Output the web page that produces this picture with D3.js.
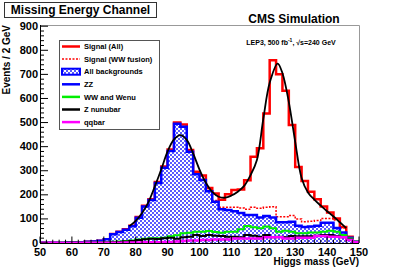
<!DOCTYPE html>
<html>
<head>
<meta charset="utf-8">
<script src="https://cdn.jsdelivr.net/npm/d3@7"></script>
<style>
  body { margin: 0; background: #fff; }
  svg { display: block; font-family: "Liberation Sans", Arial, Helvetica, sans-serif; font-weight: bold; }
</style>
</head>
<body>
<svg id="chart" width="399" height="270"></svg>
<script>
// bins: 2 GeV wide, lower edges 50 .. 148
const binLow = d3.range(50, 150, 2);

// stacked contents (each series already includes the ones below it)
const signalAll = [1, 1, 1, 1, 2, 2, 3, 5, 6, 9, 16, 37, 47, 57, 72, 108, 155, 182, 253, 318,
  388, 500, 492, 386, 296, 280, 228, 205, 180, 202, 220, 222, 261, 358, 393, 538, 759, 701, 632, 490,
  315, 257, 213, 182, 152, 127, 102, 66, 26, 5];
const signalWW = [1, 1, 1, 1, 2, 2, 3, 5, 6, 9, 16, 36, 46, 55, 70, 105, 152, 178, 249, 312,
  382, 495, 483, 379, 288, 264, 218, 176, 148, 148, 148, 145, 140, 148, 144, 148, 150, 109, 109, 114,
  100, 88, 90, 93, 102, 102, 95, 62, 24, 5];
const allBkg = [1, 1, 1, 1, 2, 2, 3, 5, 6, 9, 16, 36, 46, 55, 70, 105, 152, 178, 249, 312,
  382, 495, 483, 379, 285, 262, 215, 171, 140, 137, 132, 125, 116, 116, 106, 112, 106, 86, 86, 88,
  72, 66, 68, 72, 84, 84, 62, 44, 22, 5];
const wwWenu = [0, 0, 0, 1, 1, 1, 1, 2, 2, 2, 3, 5, 6, 8, 10, 15, 18, 20, 20, 22,
  28, 32, 40, 43, 47, 47, 50, 46, 43, 47, 47, 57, 71, 65, 61, 68, 61, 47, 51, 47,
  40, 40, 44, 44, 47, 51, 47, 33, 19, 5];
const zNunu = [0, 0, 0, 0, 1, 1, 1, 1, 1, 1, 2, 3, 4, 6, 8, 12, 16, 18, 17, 20,
  22, 18, 24, 26, 33, 29, 33, 30, 29, 26, 26, 24, 33, 30, 26, 33, 24, 26, 24, 29,
  28, 28, 28, 30, 33, 33, 29, 24, 15, 4];
const qqbar = [0, 0, 0, 0, 0, 0, 1, 1, 1, 1, 1, 1, 1, 2, 2, 2, 3, 3, 3, 4,
  4, 6, 8, 10, 10, 12, 12, 15, 15, 15, 19, 19, 19, 19, 19, 24, 24, 24, 19, 19,
  22, 22, 22, 29, 29, 26, 26, 24, 12, 3];

// fit curve
const fitMass = [78, 80, 82, 84, 86, 88, 90, 92, 94, 96, 98, 100, 102, 104, 106, 108, 110, 112, 114, 116,
  118, 120, 122, 124.5, 126, 128, 130, 132, 134, 136, 138, 140, 142, 144, 146];
const fitVal = [70, 92, 125, 170, 235, 305, 380, 430, 448, 428, 372, 305, 250, 212, 192, 188, 197, 213, 237, 282,
  345, 515, 665, 745, 705, 585, 420, 270, 210, 180, 155, 132, 110, 86, 62];

const xTicks = [50, 60, 70, 80, 90, 100, 110, 120, 130, 140, 150];
const yTicks = [0, 100, 200, 300, 400, 500, 600, 700, 800, 900];

const legendItems = [
  { label: "Signal (All)", kind: "line", color: "#ff0000", dash: null },
  { label: "Signal (WW fusion)", kind: "line", color: "#ff0000", dash: "2,1.5" },
  { label: "All backgrounds", kind: "box", color: "#0000ff", dash: null },
  { label: "ZZ", kind: "line", color: "#0000ff", dash: null },
  { label: "WW and Wenu", kind: "line", color: "#00ee00", dash: null },
  { label: "Z nunubar", kind: "line", color: "#000000", dash: null },
  { label: "qqbar", kind: "line", color: "#ff00ff", dash: null }
];

const svg = d3.select("#chart");
const frame = { left: 40, right: 359, top: 25, bottom: 243 };

const x = d3.scaleLinear().domain([50, 150]).range([frame.left, frame.right]);
const y = d3.scaleLinear().domain([0, 905]).range([frame.bottom, frame.top]);

// checker fill
const defs = svg.append("defs");
const pat = defs.append("pattern")
  .attr("id", "checker")
  .attr("patternUnits", "userSpaceOnUse")
  .attr("width", 4).attr("height", 4);
pat.append("rect").attr("width", 4).attr("height", 4).attr("fill", "#ffffff");
pat.append("rect").attr("width", 2).attr("height", 2).attr("fill", "#5a5aff");
pat.append("rect").attr("x", 2).attr("y", 2).attr("width", 2).attr("height", 2).attr("fill", "#5a5aff");

defs.append("clipPath").attr("id", "plotclip")
  .append("rect")
  .attr("x", frame.left).attr("y", frame.top - 2)
  .attr("width", frame.right - frame.left).attr("height", frame.bottom - frame.top + 2);

const stepPts = (vals) => {
  const pts = vals.map((v, i) => [binLow[i], v]);
  pts.push([150, vals[vals.length - 1]]);
  return pts;
};
const stepLine = d3.line().curve(d3.curveStepAfter).x(d => x(d[0])).y(d => y(d[1]));
const stepArea = d3.area().curve(d3.curveStepAfter).x(d => x(d[0])).y0(y(0)).y1(d => y(d[1]));

// frame top/right
svg.append("path")
  .attr("d", `M${frame.left},${frame.top + 0.5}H${frame.right + 0.5}V${frame.bottom}`)
  .attr("fill", "none").attr("stroke", "#999").attr("stroke-width", 1);

const plot = svg.append("g").attr("clip-path", "url(#plotclip)");

plot.append("path")
  .attr("d", stepLine(stepPts(signalAll)))
  .attr("fill", "none").attr("stroke", "#ff0000").attr("stroke-width", 2.5);

plot.append("path")
  .attr("d", stepLine(stepPts(signalWW)))
  .attr("fill", "none").attr("stroke", "#ff0000").attr("stroke-width", 1.5)
  .attr("stroke-dasharray", "2,1.5");

plot.append("path")
  .attr("d", stepArea(stepPts(allBkg)))
  .attr("fill", "url(#checker)");

plot.append("path")
  .attr("d", stepLine(stepPts(allBkg)))
  .attr("fill", "none").attr("stroke", "#0000ff").attr("stroke-width", 2.5);

plot.append("path")
  .attr("d", stepLine(stepPts(wwWenu)))
  .attr("fill", "none").attr("stroke", "#00ee00").attr("stroke-width", 2);

plot.append("path")
  .attr("d", stepLine(stepPts(zNunu)))
  .attr("fill", "none").attr("stroke", "#000000").attr("stroke-width", 2);

plot.append("path")
  .attr("d", stepLine(stepPts(qqbar)))
  .attr("fill", "none").attr("stroke", "#ff00ff").attr("stroke-width", 2.5);

// fit
const fitLine = d3.line().curve(d3.curveCatmullRom.alpha(0.5))
  .x((d, i) => x(fitMass[i])).y(d => y(d));
plot.append("path")
  .attr("d", fitLine(fitVal))
  .attr("fill", "none").attr("stroke", "#000").attr("stroke-width", 1.8);

// axes (ROOT style, ticks inside)
const axX = svg.append("g");
axX.append("line").attr("x1", frame.left).attr("x2", frame.right)
  .attr("y1", frame.bottom + 0.5).attr("y2", frame.bottom + 0.5).attr("stroke", "#000");
d3.range(50, 151, 2).forEach(t => {
  const major = t % 10 === 0;
  axX.append("line")
    .attr("x1", x(t)).attr("x2", x(t))
    .attr("y1", frame.bottom).attr("y2", frame.bottom - (major ? 6.5 : 3.3))
    .attr("stroke", "#000").attr("stroke-width", 1);
});
axX.selectAll("text.xl").data(xTicks).join("text")
  .attr("x", d => x(d)).attr("y", 255.5)
  .attr("text-anchor", "middle").attr("font-size", 11)
  .text(d => d);

const axY = svg.append("g");
axY.append("line").attr("x1", frame.left + 0.5).attr("x2", frame.left + 0.5)
  .attr("y1", frame.top).attr("y2", frame.bottom).attr("stroke", "#000");
d3.range(0, 901, 20).forEach(t => {
  const major = t % 100 === 0;
  axY.append("line")
    .attr("x1", frame.left).attr("x2", frame.left + (major ? 8 : 4))
    .attr("y1", y(t)).attr("y2", y(t))
    .attr("stroke", "#000").attr("stroke-width", 1);
});
axY.selectAll("text.yl").data(yTicks).join("text")
  .attr("x", 38).attr("y", d => y(d) + 3.5)
  .attr("text-anchor", "end").attr("font-size", 11)
  .text(d => d);

svg.append("text")
  .attr("transform", `translate(9.5,${frame.top}) rotate(-90)`)
  .attr("text-anchor", "end").attr("font-size", 10)
  .text("Events / 2 GeV");

svg.append("text")
  .attr("x", frame.right).attr("y", 265)
  .attr("text-anchor", "end").attr("font-size", 10)
  .text("Higgs mass (GeV)");

// title box
svg.append("rect").attr("x", 4.5).attr("y", 2.5).attr("width", 152).attr("height", 15)
  .attr("fill", "#fff").attr("stroke", "#333");
svg.append("text").attr("x", 80.5).attr("y", 14.3)
  .attr("text-anchor", "middle").attr("font-size", 12)
  .text("Missing Energy Channel");

svg.append("text").attr("x", 294).attr("y", 23)
  .attr("text-anchor", "middle").attr("font-size", 12)
  .text("CMS Simulation");

const lep = svg.append("text").attr("x", 291).attr("y", 45)
  .attr("text-anchor", "middle").attr("font-size", 7);
lep.append("tspan").text("LEP3, 500 fb");
lep.append("tspan").attr("dy", -3).attr("font-size", 5).text("-1");
lep.append("tspan").attr("dy", 3).text(", \u221As=240 GeV");

// legend
const leg = svg.append("g");
leg.append("rect").attr("x", 59.5).attr("y", 40.5).attr("width", 100).attr("height", 89)
  .attr("fill", "#fff").attr("stroke", "#555");
legendItems.forEach((it, i) => {
  const cy = 46.5 + i * 12.6;
  if (it.kind === "box") {
    leg.append("rect").attr("x", 62).attr("y", cy - 3).attr("width", 18).attr("height", 6)
      .attr("fill", "url(#checker)").attr("stroke", it.color).attr("stroke-width", 2);
  } else {
    leg.append("line").attr("x1", 62).attr("x2", 80).attr("y1", cy).attr("y2", cy)
      .attr("stroke", it.color).attr("stroke-width", it.dash ? 1.5 : 2.5)
      .attr("stroke-dasharray", it.dash);
  }
  leg.append("text").attr("x", 84).attr("y", cy + 2.6)
    .attr("font-size", 7.5).text(it.label);
});
</script>
</body>
</html>
